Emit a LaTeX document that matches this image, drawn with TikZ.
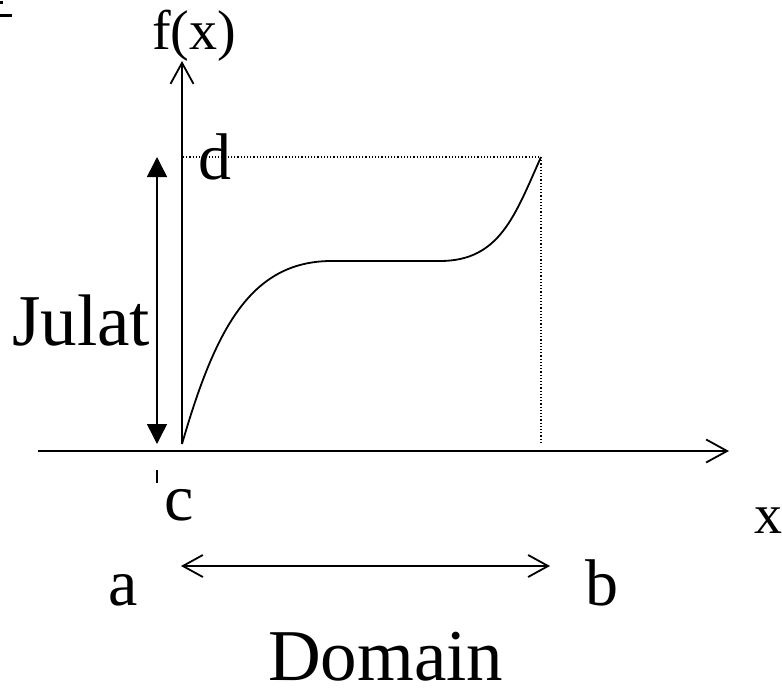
\documentclass[tikz,border=0pt]{standalone}
\usepackage{fontspec}
\setmainfont{Liberation Serif}
\usetikzlibrary{arrows.meta}
\begin{document}
\begin{tikzpicture}[x=1pt,y=-1pt,
  lbl/.style={inner sep=0pt,anchor=base west,font=\fontsize{66}{66}\selectfont},
  biglbl/.style={inner sep=0pt,anchor=base west,font=\fontsize{73}{73}\selectfont},
  smalllbl/.style={inner sep=0pt,anchor=base west,font=\fontsize{56}{56}\selectfont},
  axis/.style={line width=1.8pt},
  openarrow/.style={-{Straight Barb[length=21pt,width=23pt,line width=1.8pt]}},
  solidarrow/.style={{Triangle[length=20pt,width=20pt]}-{Triangle[length=20pt,width=20pt]}},
  guide/.style={dotted,line width=1.2pt}]
\useasboundingbox (0,0) rectangle (782,696);
% fragment in the top-left corner
\fill (0,14) rectangle (12,17);
\fill (0,1) rectangle (3,4);
% points
\coordinate (O) at (182,444);
\coordinate (Ytop) at (182,61);
\coordinate (Xl) at (38,451);
\coordinate (Xr) at (729,451);
\coordinate (P) at (541,157);
\coordinate (Pd) at (541,444);
\coordinate (Dy) at (183,157);
\coordinate (Jt) at (157,157);
\coordinate (Jb) at (157,444);
\coordinate (Da) at (181,566);
\coordinate (Db) at (550,566);
\coordinate (T1) at (157,470);
\coordinate (T2) at (157,483);
% axes
\draw[axis,openarrow] (O) -- (Ytop);
\draw[axis,openarrow] (Xl) -- (Xr);
% dotted guides
\draw[guide] (Dy) -- (P);
\draw[guide] (P) -- (Pd);
% curve
\draw[line width=1.8pt] (O) .. controls (215,330) and (250,262) .. (330,261)
  -- (440,261) .. controls (500,261) and (515,215) .. (P);
% Julat arrow
\draw[line width=1.5pt,solidarrow] (Jt) -- (Jb);
% tick
\draw[line width=1.2pt] (T1) -- (T2);
% Domain arrow
\draw[line width=1.8pt,{Straight Barb[length=20pt,width=22pt,line width=1.8pt]}-{Straight Barb[length=20pt,width=22pt,line width=1.8pt]}] (Da) -- (Db);
% labels
\node[smalllbl] (fx) at (152,49) {f(x)};
\node[lbl] (d) at (198,179) {d};
\node[biglbl] (julat) at (12,345) {Julat};
\node[lbl] (c) at (164,520) {c};
\node[smalllbl] (x) at (754,533) {x};
\node[lbl] (a) at (108,605) {a};
\node[lbl] (b) at (585,605) {b};
\node[biglbl] (dom) at (268,680) {Domain};
\end{tikzpicture}
\end{document}
